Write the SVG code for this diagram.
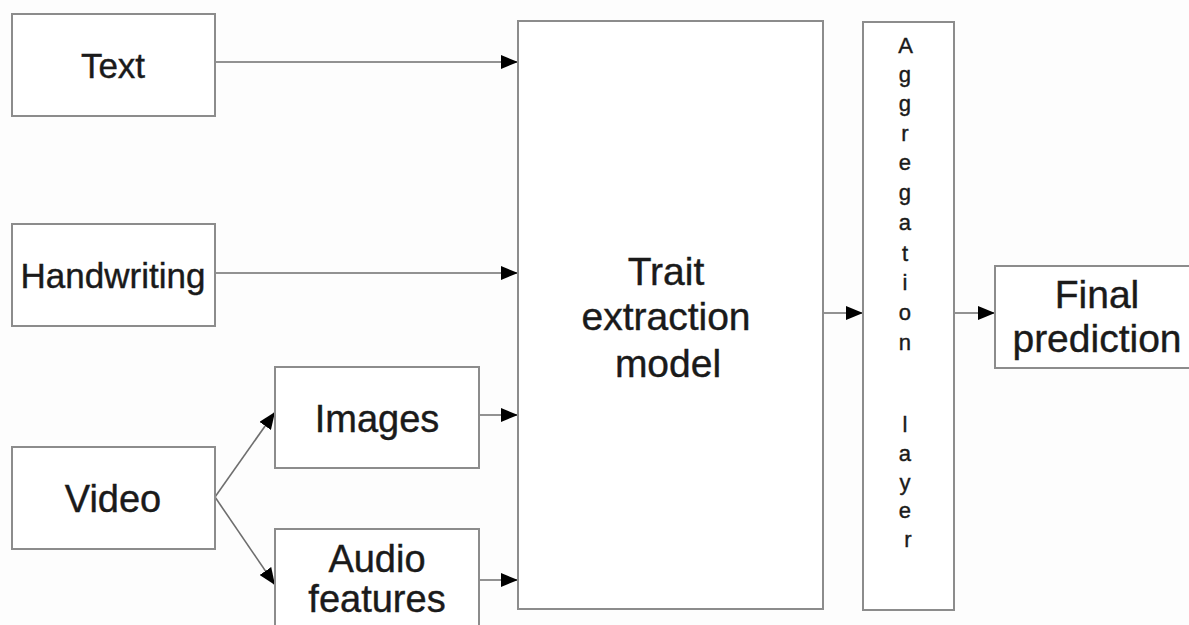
<svg xmlns="http://www.w3.org/2000/svg" width="1189" height="625" viewBox="0 0 1189 625">
<style>
.box{fill:#ffffff;stroke:#8c8c8c;stroke-width:2}
.lbl{font-family:"Liberation Sans",Arial,sans-serif;fill:#1a1a1a;text-anchor:middle;stroke:#1a1a1a;stroke-width:0.4}
.conn{stroke:#6e6e6e;stroke-width:1.6;fill:none;marker-end:url(#arr)}
</style>
<defs>
<marker id="arr" viewBox="0 0 17 14" refX="17" refY="7" markerWidth="17" markerHeight="14" markerUnits="userSpaceOnUse" orient="auto">
<path d="M0,0 L17,7 L0,14 z" fill="#000"/>
</marker>
</defs>
<rect width="1189" height="625" fill="#fdfdfd"/>
<g id="connectors">
<line class="conn" x1="215" y1="62" x2="518" y2="62"/>
<line class="conn" x1="215" y1="273" x2="518" y2="273"/>
<line class="conn" x1="479" y1="415" x2="518" y2="415"/>
<line class="conn" x1="479" y1="580" x2="518" y2="580"/>
<line class="conn" x1="215" y1="497" x2="275" y2="412"/>
<line class="conn" x1="215" y1="497" x2="275" y2="585"/>
<line class="conn" x1="823" y1="313" x2="863" y2="313"/>
<line class="conn" x1="954" y1="313" x2="995" y2="313"/>
</g>
<g id="text">
<rect class="box" x="12" y="14" width="203" height="102"/>
<text class="lbl" x="113" y="78" font-size="35">Text</text>
</g>
<g id="handwriting">
<rect class="box" x="12" y="224" width="203" height="102"/>
<text class="lbl" x="113" y="288" font-size="35">Handwriting</text>
</g>
<g id="video">
<rect class="box" x="12" y="447" width="203" height="102"/>
<text class="lbl" x="113" y="512" font-size="38">Video</text>
</g>
<g id="images">
<rect class="box" x="275" y="367" width="204" height="101"/>
<text class="lbl" x="377" y="432" font-size="38">Images</text>
</g>
<g id="audio">
<rect class="box" x="275" y="529" width="204" height="110"/>
<text class="lbl" x="377" y="572" font-size="38">Audio</text>
<text class="lbl" x="377" y="612" font-size="38">features</text>
</g>
<g id="trait">
<rect class="box" x="518" y="21" width="305" height="588"/>
<text class="lbl" x="666" y="285" font-size="39">Trait</text>
<text class="lbl" x="666" y="330" font-size="39">extraction</text>
<text class="lbl" x="668" y="377" font-size="39">model</text>
</g>
<g id="aggregation">
<rect class="box" x="863" y="22" width="91" height="588"/>
<text class="lbl" font-size="22">
<tspan x="908" y="53">A</tspan>
<tspan x="908" y="82">g</tspan>
<tspan x="908" y="111">g</tspan>
<tspan x="908" y="140.5">r</tspan>
<tspan x="908" y="170">e</tspan>
<tspan x="908" y="199.5">g</tspan>
<tspan x="908" y="230">a</tspan>
<tspan x="908" y="261">t</tspan>
<tspan x="908" y="290">i</tspan>
<tspan x="908" y="320">o</tspan>
<tspan x="908" y="350">n</tspan>
<tspan x="908" y="432">l</tspan>
<tspan x="908" y="461">a</tspan>
<tspan x="908" y="490">y</tspan>
<tspan x="908" y="518">e</tspan>
<tspan x="908" y="547">r</tspan>
</text>
</g>
<g id="final">
<rect class="box" x="995" y="266" width="210" height="102"/>
<text class="lbl" x="1097" y="308" font-size="39">Final</text>
<text class="lbl" x="1097" y="352" font-size="39">prediction</text>
</g>
</svg>
